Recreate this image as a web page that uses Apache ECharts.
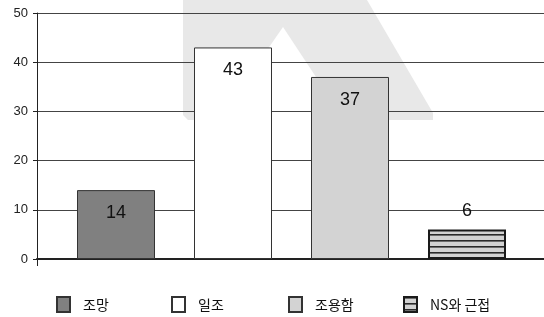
<!DOCTYPE html>
<html><head><meta charset="utf-8">
<script src="https://cdn.jsdelivr.net/npm/echarts@6/dist/echarts.min.js"></script>
<style>html,body{margin:0;padding:0;background:#fff}#c{width:544px;height:317px}</style>
</head><body><div id="c"></div>
<script>
var categories = ['조망', '일조', '조용함', 'NS와 근접'];
var values = [14, 43, 37, 6];
var yTicks = [0, 10, 20, 30, 40, 50];

var pc = document.createElement('canvas');
pc.width = 8; pc.height = 6;
var ctx = pc.getContext('2d');
ctx.fillStyle = '#d2d2d2'; ctx.fillRect(0, 0, 8, 6);
ctx.fillStyle = '#2a2a2a'; ctx.fillRect(0, 0, 8, 1.6);
var stripe = {image: pc, repeat: 'repeat'};

var styles = [
  {color: '#808080', borderColor: '#333', borderWidth: 1},
  {color: '#ffffff', borderColor: '#333', borderWidth: 1},
  {color: '#d3d3d3', borderColor: '#333', borderWidth: 1},
  {color: stripe, borderColor: '#1a1a1a', borderWidth: 2}
];
var labelCfg = [
  {position: 'insideTop', distance: 14},
  {position: 'insideTop', distance: 14},
  {position: 'insideTop', distance: 14},
  {position: 'top', distance: 9}
];
var legendLeft = [51, 166, 283, 398];

var series = categories.map(function (name, i) {
  return {
    name: name, type: 'bar', stack: 'all', xAxisIndex: 1, yAxisIndex: 1,
    barWidth: 78,
    data: categories.map(function (c, j) { return j === i ? values[i] : '-'; }),
    itemStyle: styles[i],
    label: {show: true, position: labelCfg[i].position, distance: labelCfg[i].distance,
      color: '#111', fontSize: 18, fontFamily: 'Liberation Sans Narrow, Liberation Sans, Arial'}
  };
});

var legends = categories.map(function (name, i) {
  return {
    left: legendLeft[i], top: 291, icon: 'rect', itemWidth: 13, itemHeight: 15,
    data: [name], selectedMode: false,
    textStyle: {color: '#111', fontSize: 14, fontFamily: 'Noto Sans CJK KR', padding: [0, 0, 0, 8]}
  };
});

var chart = echarts.init(document.getElementById('c'), null, {renderer: 'canvas'});
chart.setOption({
  animation: false,
  backgroundColor: '#fff',
  graphic: [
    {type: 'polygon', z: -10, silent: true,
      shape: {points: [[183, 0], [367, 0], [433, 113], [433, 120], [188, 120], [183, 115]]},
      style: {fill: '#e8e8e8'}},
    {type: 'polygon', z: -9, silent: true,
      shape: {points: [[283, 27], [218, 121], [345, 121]]},
      style: {fill: '#ffffff'}},
    {type: 'line', z: 10, silent: true,
      shape: {x1: 37.5, y1: 259, x2: 37.5, y2: 266},
      style: {stroke: '#222', lineWidth: 1}}
  ],
  grid: [
    {left: 37, right: 0, top: 13, bottom: 58},
    {left: 57.5, right: 18.5, top: 13, bottom: 58}
  ],
  xAxis: [
    {gridIndex: 0, type: 'category', data: [''], axisTick: {show: false}, axisLabel: {show: false},
      axisLine: {show: true, lineStyle: {color: '#222', width: 2}}},
    {gridIndex: 1, type: 'category', data: categories, show: false}
  ],
  yAxis: [
    {gridIndex: 0, type: 'value', min: 0, max: 50, interval: 10,
      axisLine: {show: true, lineStyle: {color: '#222', width: 1}},
      axisTick: {show: true, length: 4, lineStyle: {color: '#222'}},
      axisLabel: {color: '#222', fontSize: 13, margin: 9, fontFamily: 'Liberation Sans, Arial',
        formatter: function (v) { return yTicks.indexOf(v) >= 0 ? String(v) : ''; }},
      splitLine: {show: true, lineStyle: {color: '#444', width: 1}}},
    {gridIndex: 1, type: 'value', min: 0, max: 50, interval: 10, show: false, splitLine: {show: false}}
  ],
  legend: legends,
  series: series
});
</script>
</body></html>
